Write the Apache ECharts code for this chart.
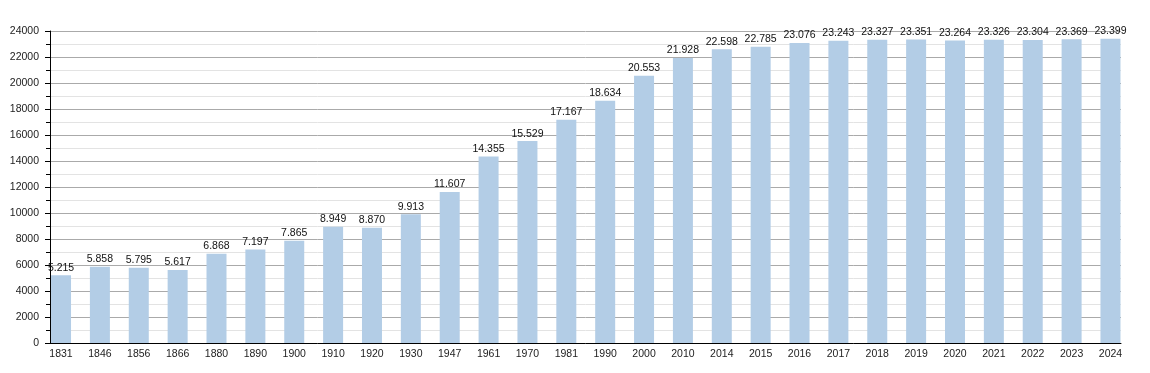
<!DOCTYPE html>
<html><head><meta charset="utf-8">
<script src="https://cdn.jsdelivr.net/npm/echarts@6/dist/echarts.min.js"></script>
<style>html,body{margin:0;padding:0;background:#fff}#c{width:1150px;height:373px}</style>
</head><body><div id="c"></div>
<script>
const years = ['1831','1846','1856','1866','1880','1890','1900','1910','1920','1930','1947','1961','1970','1981','1990','2000','2010','2014','2015','2016','2017','2018','2019','2020','2021','2022','2023','2024'];
const population = [5215,5858,5795,5617,6868,7197,7865,8949,8870,9913,11607,14355,15529,17167,18634,20553,21928,22598,22785,23076,23243,23327,23351,23264,23326,23304,23369,23399];
const yTicks = {min: 0, max: 24000, interval: 2000};

const fmt = v => String(v).replace(/\B(?=(\d{3})+(?!\d))/g, '.');
const font = 'Liberation Sans, Arial, sans-serif';
const chart = echarts.init(document.getElementById('c'), null, {renderer: 'canvas'});
chart.setOption({
  animation: false,
  grid: [
    {left: 50, right: 29, top: 31, bottom: 30},
    {left: 41.6, right: 20.1, top: 31, bottom: 30}
  ],
  xAxis: [
    {gridIndex: 0, type: 'value', min: 0, max: 1, axisLine: {show: true, onZero: false, lineStyle: {color: '#000', width: 1}},
     axisTick: {show: false}, axisLabel: {show: false}, splitLine: {show: false}},
    {gridIndex: 1, type: 'category', data: years, axisLine: {show: false}, axisTick: {show: false},
     axisLabel: {color: '#222', fontSize: 10.5, fontFamily: font, margin: 6, interval: 0}}
  ],
  yAxis: [
    {gridIndex: 0, type: 'value', min: yTicks.min, max: yTicks.max, interval: yTicks.interval,
     axisLine: {show: true, lineStyle: {color: '#000'}},
     axisTick: {show: true, length: 5, lineStyle: {color: '#000'}},
     minorTick: {show: true, splitNumber: 2, length: 4, lineStyle: {color: '#000'}},
     axisLabel: {color: '#222', fontSize: 10.5, fontFamily: font, margin: 11, formatter: v => String(v)},
     splitLine: {show: true, lineStyle: {color: '#aaa', width: 1}},
     minorSplitLine: {show: true, lineStyle: {color: '#e3e3e3', width: 1}}},
    {gridIndex: 1, type: 'value', min: yTicks.min, max: yTicks.max, show: false, splitLine: {show: false}}
  ],
  series: [{
    type: 'bar', xAxisIndex: 1, yAxisIndex: 1, data: population, barWidth: 20,
    itemStyle: {color: '#b3cde6'},
    label: {show: true, position: 'top', distance: 2, color: '#111', fontSize: 10.5, fontFamily: font,
            formatter: p => fmt(p.value)}
  }]
});
</script></body></html>
